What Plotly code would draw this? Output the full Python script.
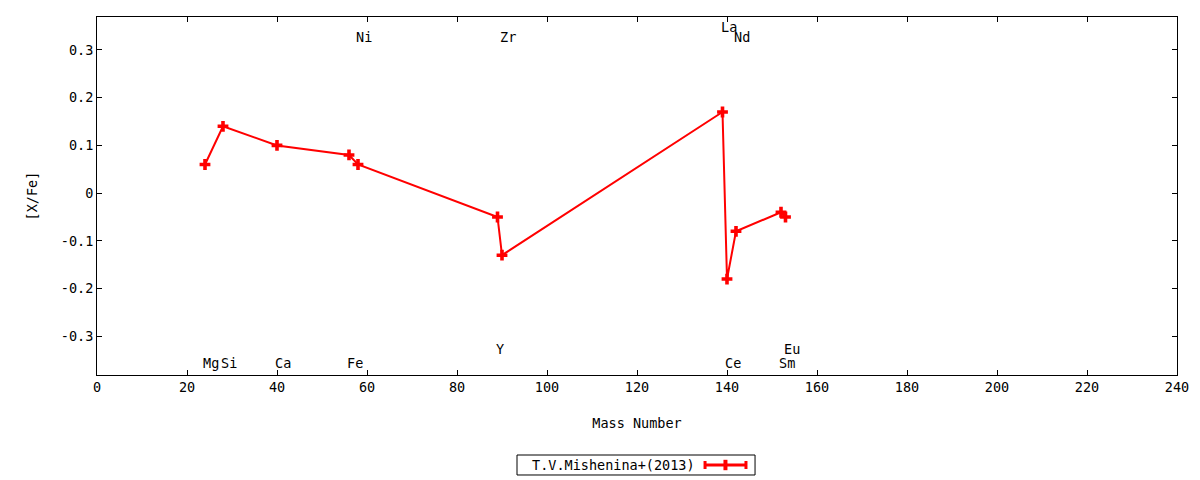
import plotly.graph_objects as go

# abundances [X/Fe] vs mass number
mass = [24, 28, 40, 56, 58, 89, 90, 139, 140, 142, 152, 153]
xfe = [0.06, 0.14, 0.10, 0.08, 0.06, -0.05, -0.13, 0.17, -0.18, -0.08, -0.04, -0.05]

# element labels (x, y in data coords)
elem_names = ['Mg', 'Si', 'Ca', 'Fe', 'Ni', 'Y', 'Zr', 'La', 'Ce', 'Nd', 'Sm', 'Eu']
elem_x = [24, 28, 40, 56, 58, 89, 90, 139, 140, 142, 152, 153]
elem_y = [-0.356, -0.356, -0.356, -0.356, 0.328, -0.326, 0.328, 0.349, -0.356, 0.328, -0.356, -0.326]

xticks = [0, 20, 40, 60, 80, 100, 120, 140, 160, 180, 200, 220, 240]
yticks = [-0.3, -0.2, -0.1, 0, 0.1, 0.2, 0.3]
ytick_text = ['-0.3', '-0.2', '-0.1', '0', '0.1', '0.2', '0.3']

series_name = 'T.V.Mishenina+(2013)'

FONT = 'DejaVu Sans Mono'
FS = 13.5

fig = go.Figure()
fig.add_trace(go.Scatter(
    x=mass, y=xfe, mode='lines+markers', name=series_name,
    showlegend=False,
    line=dict(color='red', width=2),
    marker=dict(symbol='cross', size=9, color='red'),
))

for name, x, y in zip(elem_names, elem_x, elem_y):
    fig.add_annotation(x=x, y=y, text=name, showarrow=False,
                       xanchor='left', yanchor='middle', xshift=-4,
                       font=dict(family=FONT, size=FS, color='black'))

# gnuplot-style key below the plot: box, title on the left, sample on the right
fig.add_shape(type='rect', xref='paper', yref='paper',
              x0=0.3889, x1=0.6093, y0=-0.2793, y1=-0.2235,
              line=dict(color='black', width=1), fillcolor='white')
fig.add_annotation(xref='paper', yref='paper', x=0.5556, y=-0.2514,
                   text=series_name, showarrow=False, xanchor='right', yanchor='middle',
                   font=dict(family=FONT, size=FS, color='black'))
ky = -0.2514
dy = 4 / 358
for x0, x1, y0, y1, w in [
    (0.5630, 0.6009, ky, ky, 3),
    (0.5630, 0.5630, ky - dy, ky + dy, 3),
    (0.6009, 0.6009, ky - dy, ky + dy, 3),
    (0.5819, 0.5819, ky - 1.3 * dy, ky + 1.3 * dy, 4),
]:
    fig.add_shape(type='line', xref='paper', yref='paper',
                  x0=x0, x1=x1, y0=y0, y1=y1, line=dict(color='red', width=w))

axis_style = dict(showline=True, linecolor='black', linewidth=1, mirror='ticks',
                  ticks='inside', ticklen=5, tickcolor='black', showgrid=False,
                  zeroline=False, tickfont=dict(family=FONT, size=FS, color='black'))

fig.update_xaxes(range=[0, 240], tickvals=xticks,
                 title=dict(text='Mass Number', font=dict(family=FONT, size=FS, color='black'),
                            standoff=24),
                 **axis_style)
fig.update_yaxes(range=[-0.381, 0.369], tickvals=yticks, ticktext=ytick_text,
                 title=dict(text='[X/Fe]', font=dict(family=FONT, size=FS, color='black'),
                            standoff=20),
                 **axis_style)

fig.update_layout(
    width=1200, height=480,
    margin=dict(l=89, r=31, t=9, b=113, autoexpand=False),
    plot_bgcolor='white', paper_bgcolor='white',
    font=dict(family=FONT, size=FS, color='black'),
)

fig.write_html("out.html")
